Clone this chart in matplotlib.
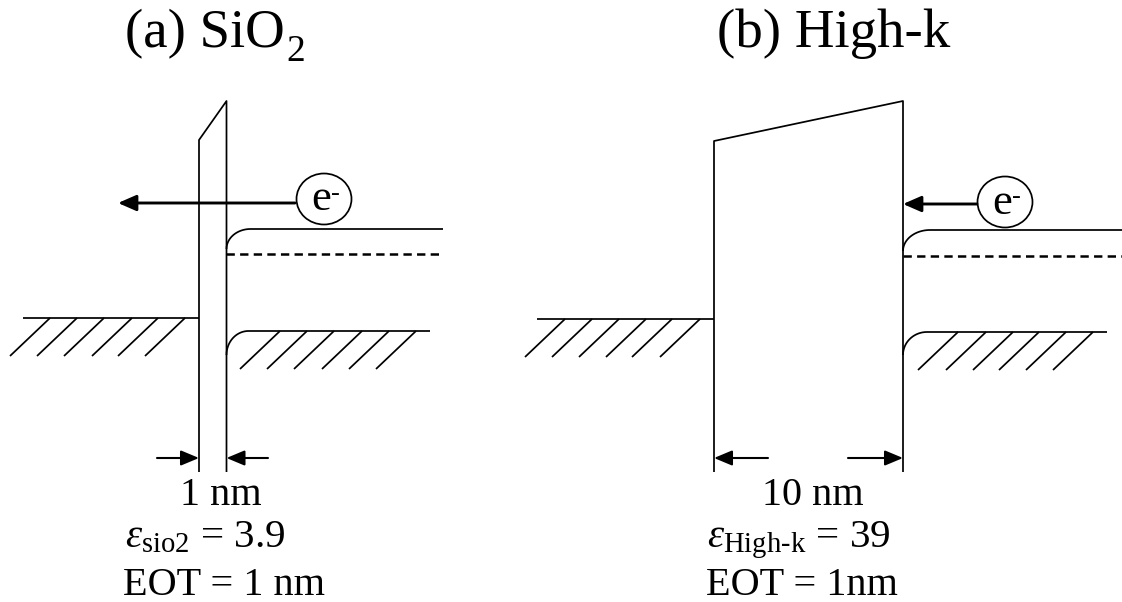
import numpy as np
import matplotlib
matplotlib.use("Agg")
import matplotlib.pyplot as plt
from matplotlib.patches import Ellipse, FancyArrowPatch

plt.rcParams['font.family'] = ['Liberation Serif', 'DejaVu Serif']
plt.rcParams['mathtext.fontset'] = 'custom'
plt.rcParams['mathtext.rm'] = 'Liberation Serif'
plt.rcParams['mathtext.it'] = 'Liberation Serif:italic'
plt.rcParams['lines.scale_dashes'] = False

# ---- diagram data (pixel coordinates, y downward) ----
title_main = ["(a) SiO", "(b) High-k"]
title_sub = ["2", ""]
thickness_labels = ["1 nm", "10 nm"]
eps_labels = [r"$\varepsilon_{\mathrm{sio2}}$ = 3.9", r"$\varepsilon_{\mathrm{High\text{-}k}}$ = 39"]
eot_labels = ["EOT = 1 nm", "EOT = 1nm"]

# oxide walls: left x, right x, left top y, right top y
ox_left = [199, 714]
ox_right = [226.5, 903]
ox_top_left = [140, 141]
ox_top_right = [101, 101]
ox_bottom = 472

# metal Fermi level (left electrode)
metal_x0 = [23, 537]
metal_y = [318, 319]
metal_hatch_tops = [[50, 77, 104, 132, 158, 185], [565, 592, 619, 646, 672, 700]]

# semiconductor bands
cb_y = [229, 230]
cb_x1 = [443, 1122]
ef_y = [254, 256]
vb_y = [331, 332]
vb_x1 = [430, 1107]
vb_hatch_tops = [[280, 307, 334, 362, 389, 416], [958, 986, 1013, 1039, 1066, 1093]]

# electron arrows
e_center = [(324, 199), (1005, 202)]
e_arrow_tail = [295, 977]
e_arrow_tip = [118, 903]
e_arrow_y = [203, 204]

# dimension arrows
dim_y = 458
dim_tails = [(157, 268), (768, 848)]

fig = plt.figure(figsize=(11.22, 6.02), dpi=100)
ax = fig.add_axes([0, 0, 1, 1])
ax.set_xlim(0, 1122)
ax.set_ylim(602, 0)
ax.axis('off')

LW = 1.25
k = dict(color='black', lw=LW, solid_capstyle='butt')

def corner(wall, level, rx, ry):
    t = np.linspace(0, np.pi / 2, 30)
    cx, cy = wall + rx, level + ry
    return cx - rx * np.cos(t), cy - ry * np.sin(t)

cb_r = [(24, 20), (27, 21)]
vb_r = [(22, 24), (24, 23)]

for i in range(2):
    xl, xr = ox_left[i], ox_right[i]
    # oxide
    ax.plot([xl, xl, xr, xr], [ox_bottom, ox_top_left[i], ox_top_right[i], ox_bottom], **k)
    # metal
    ax.plot([metal_x0[i], xl], [metal_y[i], metal_y[i]], **k)
    for xt in metal_hatch_tops[i]:
        ax.plot([xt, xt - 40], [metal_y[i], metal_y[i] + 38], **k)
    # conduction band
    cx, cy = corner(xr, cb_y[i], *cb_r[i])
    ax.plot(np.r_[cx, cb_x1[i]], np.r_[cy, cb_y[i]], **k)
    # Fermi level (dashed)
    ax.plot([xr, cb_x1[i]], [ef_y[i], ef_y[i]], color='black', lw=1.8, dashes=(6, 3.8))
    # valence band
    vx, vy = corner(xr, vb_y[i], *vb_r[i])
    ax.plot(np.r_[vx, vb_x1[i]], np.r_[vy, vb_y[i]], **k)
    for xt in vb_hatch_tops[i]:
        ax.plot([xt, xt - 40], [vb_y[i], vb_y[i] + 38], **k)
    # electron
    ex, ey = e_center[i]
    ax.add_patch(Ellipse((ex, ey), 55, 51, fill=False, ec='black', lw=LW))
    ax.text(ex - 3, ey + 11.5, "e", fontsize=32, ha='center', va='baseline')
    ax.text(ex + 11.5, ey + 1, "-", fontsize=19, ha='center', va='baseline')
    ax.add_patch(FancyArrowPatch((e_arrow_tail[i], e_arrow_y[i]), (e_arrow_tip[i], e_arrow_y[i]),
                                 arrowstyle='-|>,head_length=11,head_width=4.8',
                                 mutation_scale=1, color='black', lw=2.1,
                                 shrinkA=0, shrinkB=0))
    # dimension arrows
    ta, tb = dim_tails[i]
    ax.add_patch(FancyArrowPatch((ta, dim_y), (xl, dim_y),
                                 arrowstyle='-|>,head_length=11,head_width=4.6',
                                 mutation_scale=1, color='black', lw=1.5, shrinkA=0, shrinkB=0))
    ax.add_patch(FancyArrowPatch((tb, dim_y), (xr, dim_y),
                                 arrowstyle='-|>,head_length=11,head_width=4.6',
                                 mutation_scale=1, color='black', lw=1.5, shrinkA=0, shrinkB=0))

# titles
title_x = [125, 717]
renderer = fig.canvas.get_renderer()
for i in range(2):
    t = ax.text(title_x[i], 47, title_main[i], fontsize=39.5, ha='left', va='baseline')
    if title_sub[i]:
        bb = t.get_window_extent(renderer=renderer)
        x_end = ax.transData.inverted().transform((bb.x1, bb.y0))[0]
        ax.text(x_end + 2, 61, title_sub[i], fontsize=27, ha='left', va='baseline')

thick_x = [180, 762]
eps_x = [125, 707]
eot_x = [123, 706]
for i in range(2):
    ax.text(thick_x[i], 505, thickness_labels[i], fontsize=29, ha='left', va='baseline')
    ax.text(eps_x[i], 547, eps_labels[i], fontsize=29.5, ha='left', va='baseline')
    ax.text(eot_x[i], 595, eot_labels[i], fontsize=29, ha='left', va='baseline')

fig.savefig("out.png", dpi=100)
